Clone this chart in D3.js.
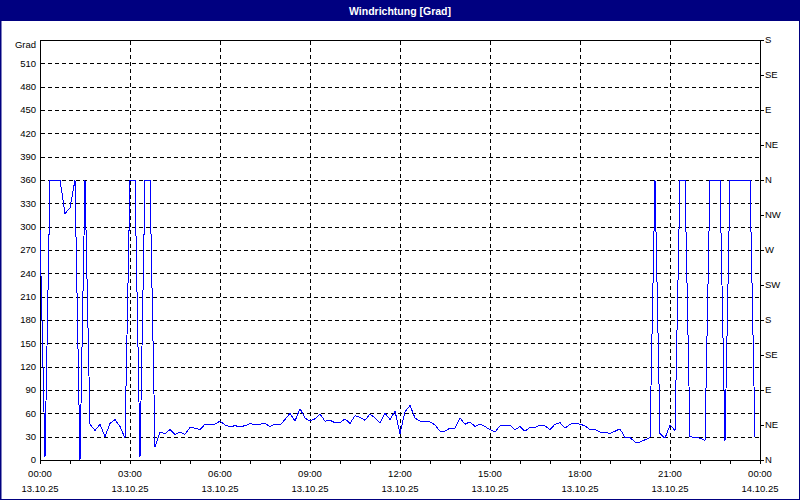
<!DOCTYPE html>
<html><head><meta charset="utf-8">
<script src="https://cdn.jsdelivr.net/npm/d3@7"></script>
<style>html,body{margin:0;padding:0;background:#fff}svg{display:block}</style>
</head><body>
<svg id="c" width="800" height="500"></svg>
<script>
const title = "Windrichtung [Grad]";
const unitLabel = "Grad";
const leftTicks = [0,30,60,90,120,150,180,210,240,270,300,330,360,390,420,450,480,510];
const rightTicks = [0,45,90,135,180,225,270,315,360,405,450,495,540];
const rightLabels = ["N","NE","E","SE","S","SW","W","NW","N","NE","E","SE","S"];
const timeTicks = [0,180,360,540,720,900,1080,1260,1440];
const timeLabels = ["00:00","03:00","06:00","09:00","12:00","15:00","18:00","21:00","00:00"];
const dateLabels = ["13.10.25","13.10.25","13.10.25","13.10.25","13.10.25","13.10.25","13.10.25","13.10.25","14.10.25"];
const hourTicks = [0,60,120,180,240,300,360,420,480,540,600,660,720,780,840,900,960,1020,1080,1140,1200,1260,1320,1380,1440];
const intervalMinutes = 10;
const direction = [
296,4,360,360,360,317,324,360,0,360,46,38,46,30,47,52,43,28,360,360,4,360,360,17,
36,34,39,33,36,33,42,41,39,46,45,46,50,45,43,44,43,44,47,45,46,47,43,46,
45,52,60,50,66,54,50,53,59,50,51,48,48,53,47,57,55,51,59,54,48,60,52,63,
34,62,70,54,50,50,49,45,37,37,41,41,54,46,49,43,46,43,39,36,44,45,45,39,
43,37,42,42,45,44,39,46,48,41,46,47,46,44,39,39,36,36,34,37,40,29,29,23,
23,26,29,360,34,28,45,38,360,360,30,29,28,25,360,360,360,24,360,360,360,360,360,30
];

const svg = d3.select("#c");
const W = 800, H = 500;
const L = 40, R = 760, T = 40, B = 460;
const font = "'Liberation Sans', Arial, sans-serif";

svg.append("rect").attr("width", W).attr("height", H).attr("fill", "#fff");

const x = d3.scaleLinear().domain([0, 1440]).range([L, R]);
const y = d3.scaleLinear().domain([0, 540]).range([B, T]);

// title bar
svg.append("rect").attr("x",0).attr("y",0).attr("width",W).attr("height",21).attr("fill","#000080");
svg.append("text").attr("x",W/2).attr("y",14.5).attr("text-anchor","middle")
  .attr("fill","#fff").attr("font-family",font).attr("font-weight","bold").attr("font-size","10.5px")
  .text(title);

// frame
svg.append("rect").attr("x",0.5).attr("y",0.5).attr("width",W-1).attr("height",H-1)
  .attr("fill","none").attr("stroke","#000080").attr("stroke-width",1);
svg.append("line").attr("x1",1).attr("x2",1).attr("y1",0).attr("y2",H).attr("stroke","#000080");

// grid
const g = svg.append("g").attr("shape-rendering","crispEdges");
g.selectAll("line.h").data(leftTicks.filter(v => v > 0)).join("line")
  .attr("x1", L+1).attr("x2", R).attr("y1", d => Math.round(y(d))+0.5).attr("y2", d => Math.round(y(d))+0.5)
  .attr("stroke","#000").attr("stroke-dasharray","4,3");
g.selectAll("line.v").data(timeTicks.filter(v => v > 0 && v < 1440)).join("line")
  .attr("y1", T+1).attr("y2", B).attr("x1", d => Math.round(x(d))+0.5).attr("x2", d => Math.round(x(d))+0.5)
  .attr("stroke","#000").attr("stroke-dasharray","4,3");

// axes frame
const ax = svg.append("g").attr("shape-rendering","crispEdges").attr("stroke","#000");
ax.append("line").attr("x1",L+0.5).attr("x2",L+0.5).attr("y1",T).attr("y2",B+1);
ax.append("line").attr("x1",R+0.5).attr("x2",R+0.5).attr("y1",T).attr("y2",B+1);
ax.append("line").attr("x1",L).attr("x2",R+1).attr("y1",T+0.5).attr("y2",T+0.5);
ax.append("line").attr("x1",L).attr("x2",R+1).attr("y1",B+0.5).attr("y2",B+0.5);
// hour ticks
ax.selectAll("line.t").data(hourTicks).join("line")
  .attr("x1", d => Math.round(x(d))+0.5).attr("x2", d => Math.round(x(d))+0.5)
  .attr("y1", B).attr("y2", B+4);
// right ticks
ax.selectAll("line.r").data(rightTicks).join("line")
  .attr("x1", R).attr("x2", R+4)
  .attr("y1", d => Math.round(y(d))+0.5).attr("y2", d => Math.round(y(d))+0.5);

const txt = svg.append("g").attr("font-family",font).attr("font-size","9.5px").attr("fill","#000");
txt.selectAll("text.l").data(leftTicks).join("text")
  .attr("x", 36).attr("y", d => y(d)).attr("dy","0.35em").attr("text-anchor","end").text(d => d);
txt.append("text").attr("x",36).attr("y",45).attr("dy","0.35em").attr("text-anchor","end").text(unitLabel);
txt.selectAll("text.r").data(rightTicks).join("text")
  .attr("x", 765).attr("y", d => y(d)).attr("dy","0.35em").text((d,i) => rightLabels[i]);
txt.selectAll("text.t").data(timeTicks).join("text")
  .attr("x", d => x(d)).attr("y", 474).attr("dy","0.35em").attr("text-anchor","middle").text((d,i) => timeLabels[i]);
txt.selectAll("text.d").data(timeTicks).join("text")
  .attr("x", d => x(d)).attr("y", 489).attr("dy","0.35em").attr("text-anchor","middle").text((d,i) => dateLabels[i]);

// data line
const line = d3.line().x((d,i) => x(i*intervalMinutes)).y(d => y(d));
svg.append("path").datum(direction).attr("d", line)
  .attr("fill","none").attr("stroke","#0000ff").attr("stroke-width",1)
  .attr("shape-rendering","crispEdges");
</script>
</body></html>
